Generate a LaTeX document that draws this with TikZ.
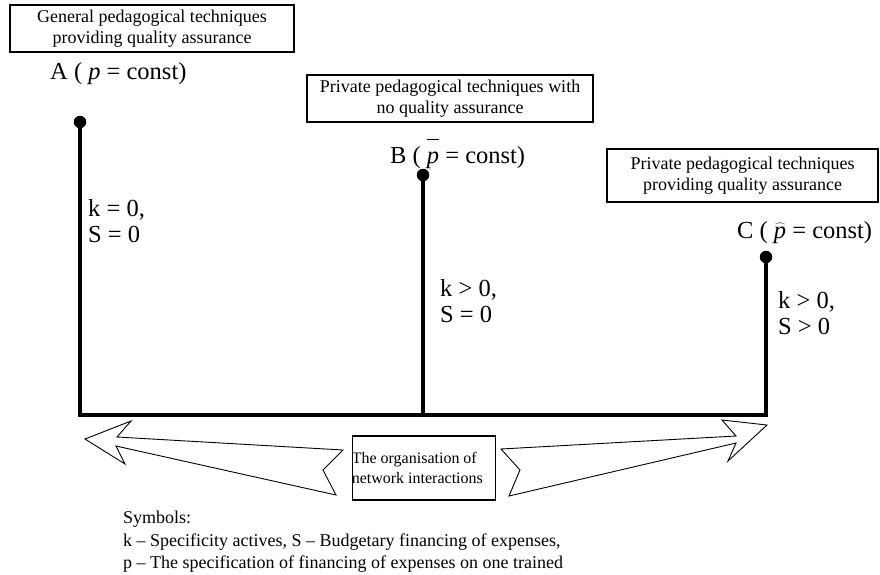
\documentclass[tikz,border=0pt]{standalone}
\usepackage{fontspec}
\setmainfont{Liberation Serif}
\begin{document}
\begin{tikzpicture}[x=1pt,y=-1pt,
  boxtext/.style={font=\fontsize{18}{21}\selectfont, align=center},
  topbox/.style={draw=black, line width=1.2pt, inner sep=0pt},
  label/.style={font=\fontsize{24.5}{27}\selectfont, anchor=base west, inner sep=0pt},
  cond/.style={font=\fontsize{24.5}{26}\selectfont, anchor=north west, align=left, inner sep=0pt},
  stem/.style={line width=4pt},
  dotm/.style={circle, fill=black, minimum size=12.5pt, inner sep=0pt},
  blockarrow/.style={draw=black, fill=white, line width=0.9pt, line join=miter}
]
\useasboundingbox (0,0) rectangle (880,574);

% top boxes
\node[topbox, minimum width=284pt, minimum height=47pt] (boxA) at (152,28.5) {};
\node[boxtext] (txtA) at (boxA.center) {General pedagogical techniques\\providing quality assurance};
\node[topbox, minimum width=286pt, minimum height=47pt] (boxB) at (450,98.5) {};
\node[boxtext] (txtB) at (boxB.center) {Private pedagogical techniques with\\no quality assurance};
\node[topbox, minimum width=271pt, minimum height=53pt] (boxC) at (742.5,175.5) {};
\node[boxtext] (txtC) at (boxC.center) {Private pedagogical techniques\\providing quality assurance};

% point labels
\node[label] (labA) at (50,79) {A ( \textit{p} = const)};
\node[label] (labB) at (390,163) {B ( $\overline{\mbox{\itshape p\rule{0pt}{0.9em}}}$ = const)};
\node[label] (labC) at (737,238) {C ( $\widehat{\mbox{\itshape p}}$ = const)};

% points and stems
\node[dotm] (dA) at (80,122) {};
\node[dotm] (dB) at (423,175) {};
\node[dotm] (dC) at (766,257) {};
\coordinate (bA) at (80,415);
\coordinate (bB) at (423,415);
\coordinate (bC) at (766,415);
\draw[stem] (dA.center) -- (bA);
\draw[stem] (dB.center) -- (bB);
\draw[stem] (dC.center) -- (bC);
\draw[stem, line cap=rect] (bA) -- (bC);

% conditions
\node[cond] (condA) at (88,199) {k = 0,\\S = 0};
\node[cond] (condB) at (440,279) {k > 0,\\S = 0};
\node[cond] (condC) at (778,291) {k > 0,\\S > 0};

% center box
\node[draw=black, line width=1.8pt, minimum width=143pt, minimum height=64pt, inner sep=0pt] (center) at (424,468) {};
\node[font=\fontsize{16}{20}\selectfont, anchor=west, align=left, inner sep=0pt] (ctext) at (center.west) {The organisation of\\network interactions};

% block arrows
\draw[blockarrow] (85,439) -- (131,421) -- (117,437) -- (343,450) -- (323,470) -- (336,495) -- (116,446) -- (125,464) -- cycle;
\draw[blockarrow] (767,425) -- (722,420) -- (736,436) -- (501,449) -- (520,470) -- (509,496) -- (736,443) -- (728,461) -- cycle;

% legend
\node[font=\fontsize{18}{22.5}\selectfont, anchor=north west, align=left, inner sep=0pt] (legend) at (123,511) {Symbols:\\k -- Specificity actives, S -- Budgetary financing of expenses,\\p -- The specification of financing of expenses on one trained};
\end{tikzpicture}
\end{document}
